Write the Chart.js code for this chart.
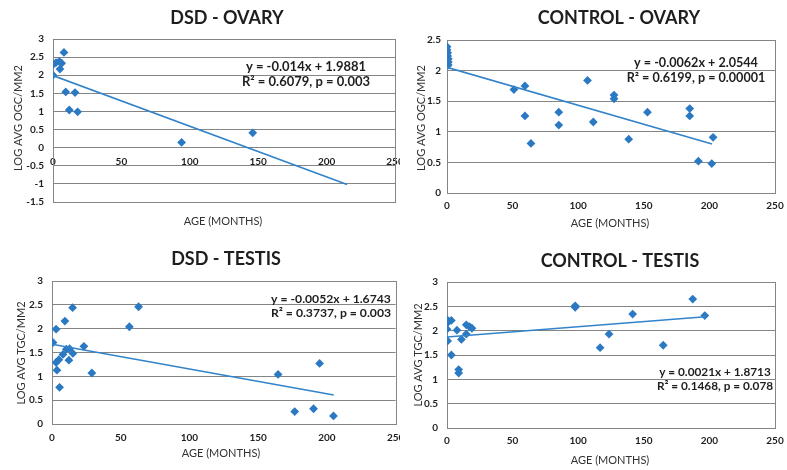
<!DOCTYPE html>
<html><head><meta charset="utf-8">
<script src="https://cdn.jsdelivr.net/npm/chart.js@4.4.0/dist/chart.umd.min.js"></script>
<style>
html,body{margin:0;padding:0;background:#fff;}
body{width:787px;height:470px;position:relative;overflow:hidden;}
.panel{position:absolute;}
canvas{display:block;}
</style></head><body>
<div class="panel" style="left:0px;top:0px;"><canvas id="c1" width="400" height="232"></canvas></div>
<div class="panel" style="left:400px;top:0px;"><canvas id="c2" width="387" height="232"></canvas></div>
<div class="panel" style="left:0px;top:232px;"><canvas id="c3" width="400" height="238"></canvas></div>
<div class="panel" style="left:400px;top:232px;"><canvas id="c4" width="387" height="238"></canvas></div>
<script>
// ---------- DATA ----------
const xTicks = [0, 50, 100, 150, 200, 250];
const yTicksDsdOvary = [-1.5, -1, -0.5, 0, 0.5, 1, 1.5, 2, 2.5, 3];
const yTicksCtrlOvary = [0, 0.5, 1, 1.5, 2, 2.5];
const yTicksTestis = [0, 0.5, 1, 1.5, 2, 2.5, 3];

const ageDsdOvary = [0, 0, 2.2, 4.6, 6.3, 5.1, 8.0, 9.3, 16.1, 11.9, 18, 94, 146];
const logDsdOvary = [2.0, 2.29, 2.35, 2.38, 2.33, 2.17, 2.63, 1.54, 1.52, 1.04, 0.99, 0.145, 0.41];
const trendAgeDsdOvary = [0, 215];
const trendLogDsdOvary = [1.99, -1.02];

const ageCtrlOvary = [0, 0, 0.5, 0.5, 1, 1, 1, 51, 59.4, 59.4, 64, 85.2, 85.2, 107.1, 111.5, 127.3, 127.3, 138.5, 152.8, 185, 185, 191.6, 201.8, 202.8];
const logCtrlOvary = [2.39, 2.34, 2.29, 2.24, 2.19, 2.14, 2.09, 1.69, 1.75, 1.26, 0.81, 1.32, 1.11, 1.84, 1.16, 1.60, 1.54, 0.88, 1.32, 1.38, 1.26, 0.52, 0.48, 0.91];
const trendAgeCtrlOvary = [0, 202];
const trendLogCtrlOvary = [2.054, 0.80];

const ageDsdTestis = [0.7, 3, 9.4, 15, 3, 5, 3.6, 5.5, 8, 10.4, 12.8, 12.3, 15.2, 23.2, 29, 56.3, 63, 164.5, 194.7, 176.6, 190.3, 204.8];
const logDsdTestis = [1.71, 1.99, 2.16, 2.44, 1.29, 1.35, 1.13, 0.77, 1.46, 1.57, 1.58, 1.34, 1.48, 1.63, 1.07, 2.04, 2.46, 1.04, 1.27, 0.26, 0.32, 0.17];
const trendAgeDsdTestis = [0, 205];
const trendLogDsdTestis = [1.674, 0.61];

const ageCtrlTestis = [0, 0, 1, 3.3, 0, 0.5, 3.3, 7.6, 8.9, 8.9, 11, 14.7, 14.7, 17.2, 19, 97.7, 97.7, 116.7, 123.5, 141.5, 164.8, 187.3, 196.5];
const logCtrlTestis = [2.22, 2.15, 2.2, 2.21, 2.03, 1.79, 1.5, 2.01, 1.2, 1.13, 1.82, 2.12, 1.93, 2.08, 2.05, 2.48, 2.51, 1.65, 1.93, 2.34, 1.70, 2.65, 2.31];
const trendAgeCtrlTestis = [0, 197];
const trendLogCtrlTestis = [1.871, 2.285];

// ---------- STYLE ----------
const BLUE = '#2b79c2';
const LINEBLUE = '#3283c9';
const GRID = '#858585';
const TEXT = '#1e1e1e';
const FONT = 'Lato, "Open Sans", sans-serif';
const XH = 20;

function pairs(xs, ys) { return xs.map((x, i) => ({ x: x, y: ys[i] })); }

const framePlugin = {
  id: 'frame',
  beforeDatasetsDraw(chart) {
    const a = chart.chartArea, c = chart.ctx;
    c.save();
    c.strokeStyle = GRID; c.lineWidth = 1;
    c.strokeRect(Math.round(a.left) + 0.5, Math.round(a.top) + 0.5, Math.round(a.right - a.left), Math.round(a.bottom - a.top));
    c.restore();
  }
};

const textPlugin = {
  id: 'texts',
  afterDraw(chart) {
    const t = chart.options.plugins.texts;
    const c = chart.ctx;
    c.save();
    c.fillStyle = TEXT;
    c.textAlign = 'center'; c.textBaseline = 'middle';
    c.font = 'bold 18px ' + FONT;
    c.fillText(t.title, t.titlePos[0], t.titlePos[1]);
    c.fillStyle = '#333';
    c.font = '11px ' + FONT;
    c.fillText('AGE (MONTHS)', t.xTitlePos[0], t.xTitlePos[1]);
    c.save();
    c.translate(t.yTitlePos[0], t.yTitlePos[1]);
    c.rotate(-Math.PI / 2);
    c.fillText(t.yTitle, 0, 0);
    c.restore();
    c.fillStyle = TEXT;
    c.font = 'bold ' + t.eqSize + 'px ' + FONT;
    c.fillText(t.eq1, t.eqPos[0], t.eqPos[1]);
    c.fillText(t.eq2, t.eqPos[0], t.eqPos[1] + 14.5);
    c.restore();
  }
};

function makeChart(id, cfg) {
  const cv = document.getElementById(id);
  const W = cv.width, H = cv.height;
  const fmt = v => String(v);
  const pad = { left: 0, top: cfg.area.t, right: W - cfg.area.r, bottom: H - cfg.area.b - XH };
  const chart = new Chart(cv, {
    type: 'scatter',
    data: {
      datasets: [
        { type: 'line', data: cfg.trend, borderColor: LINEBLUE, borderWidth: 1.6, pointRadius: 0, fill: false, order: 0, tension: 0 },
        { type: 'scatter', data: cfg.points, pointStyle: 'rectRot', pointRadius: 4.4, backgroundColor: BLUE, borderColor: BLUE, borderWidth: 0, order: 1 }
      ]
    },
    options: {
      responsive: false, animation: false, devicePixelRatio: 1,
      layout: { padding: pad },
      plugins: {
        legend: { display: false }, tooltip: { enabled: false }, title: { display: false },
        texts: cfg.texts
      },
      scales: {
        x: {
          type: 'linear', min: 0, max: 250,
          position: cfg.xAtZero ? { y: 0 } : 'bottom',
          afterFit: s => { s.height = XH; s.paddingLeft = 0; s.paddingRight = 0; },
          afterBuildTicks: s => { s.ticks = xTicks.map(v => ({ value: v })); },
          grid: { display: false, drawTicks: false },
          border: { display: false },
          ticks: { font: { family: FONT, size: 10, weight: 'bold' }, color: TEXT, padding: cfg.xPad, maxRotation: 0, autoSkip: false, callback: fmt }
        },
        y: {
          type: 'linear', min: cfg.yTicks[0], max: cfg.yTicks[cfg.yTicks.length - 1],
          afterFit: s => { s.width = cfg.area.l; s.paddingTop = 0; s.paddingBottom = 0; },
          afterBuildTicks: s => { s.ticks = cfg.yTicks.map(v => ({ value: v })); },
          grid: { color: GRID, lineWidth: 1, drawTicks: false },
          border: { display: true, color: GRID },
          ticks: { font: { family: FONT, size: 10, weight: 'bold' }, color: TEXT, padding: cfg.yPad, autoSkip: false, callback: fmt }
        }
      }
    },
    plugins: [framePlugin, textPlugin]
  });
  // correct the plot area to the target box (iterate, the layout is not linear for a crossing axis)
  for (let k = 0; k < 6; k++) {
    const a = chart.chartArea;
    const p = chart.config.options.layout.padding;
    const dt = cfg.area.t - a.top, dr = a.right - cfg.area.r, db = a.bottom - cfg.area.b;
    if (Math.abs(dt) < 0.3 && Math.abs(dr) < 0.3 && Math.abs(db) < 0.3) break;
    p.top += dt; p.right += dr; p.bottom += db;
    chart.update();
  }
  return chart;
}

makeChart('c1', {
  points: pairs(ageDsdOvary, logDsdOvary), trend: pairs(trendAgeDsdOvary, trendLogDsdOvary),
  yTicks: yTicksDsdOvary, xAtZero: true, xPad: 8, yPad: 9,
  area: { l: 53, t: 39, r: 395, b: 202 },
  texts: { title: 'DSD - OVARY', titlePos: [227, 18], yTitle: 'LOG AVG OGC/MM2', yTitlePos: [18, 118], xTitlePos: [223, 221],
           eq1: 'y = -0.014x + 1.9881', eq2: 'R\u00B2 = 0.6079, p = 0.003', eqPos: [306, 67], eqSize: 13 }
});
makeChart('c2', {
  points: pairs(ageCtrlOvary, logCtrlOvary), trend: pairs(trendAgeCtrlOvary, trendLogCtrlOvary),
  yTicks: yTicksCtrlOvary, xAtZero: false, xPad: 7, yPad: 6,
  area: { l: 47, t: 40, r: 375, b: 193 },
  texts: { title: 'CONTROL - OVARY', titlePos: [219, 18], yTitle: 'LOG AVG OGC/MM2', yTitlePos: [21, 118], xTitlePos: [210, 223],
           eq1: 'y = -0.0062x + 2.0544', eq2: 'R\u00B2 = 0.6199, p = 0.00001', eqPos: [296, 63], eqSize: 12.6 }
});
makeChart('c3', {
  points: pairs(ageDsdTestis, logDsdTestis), trend: pairs(trendAgeDsdTestis, trendLogDsdTestis),
  yTicks: yTicksTestis, xAtZero: false, xPad: 8, yPad: 9,
  area: { l: 52, t: 49, r: 397, b: 192 },
  texts: { title: 'DSD - TESTIS', titlePos: [226, 27], yTitle: 'LOG AVG TGC/MM2', yTitlePos: [21, 121], xTitlePos: [221, 221],
           eq1: 'y = -0.0052x + 1.6743', eq2: 'R\u00B2 = 0.3737, p = 0.003', eqPos: [331, 67], eqSize: 12.2 }
});
makeChart('c4', {
  points: pairs(ageCtrlTestis, logCtrlTestis), trend: pairs(trendAgeCtrlTestis, trendLogCtrlTestis),
  yTicks: yTicksTestis, xAtZero: false, xPad: 7, yPad: 9,
  area: { l: 47, t: 50, r: 375, b: 196 },
  texts: { title: 'CONTROL - TESTIS', titlePos: [220, 29], yTitle: 'LOG AVG TGC/MM2', yTitlePos: [18, 123], xTitlePos: [210, 228],
           eq1: 'y = 0.0021x + 1.8713', eq2: 'R\u00B2 = 0.1468, p = 0.078', eqPos: [315, 140], eqSize: 11.8 }
});
</script>
</body></html>
